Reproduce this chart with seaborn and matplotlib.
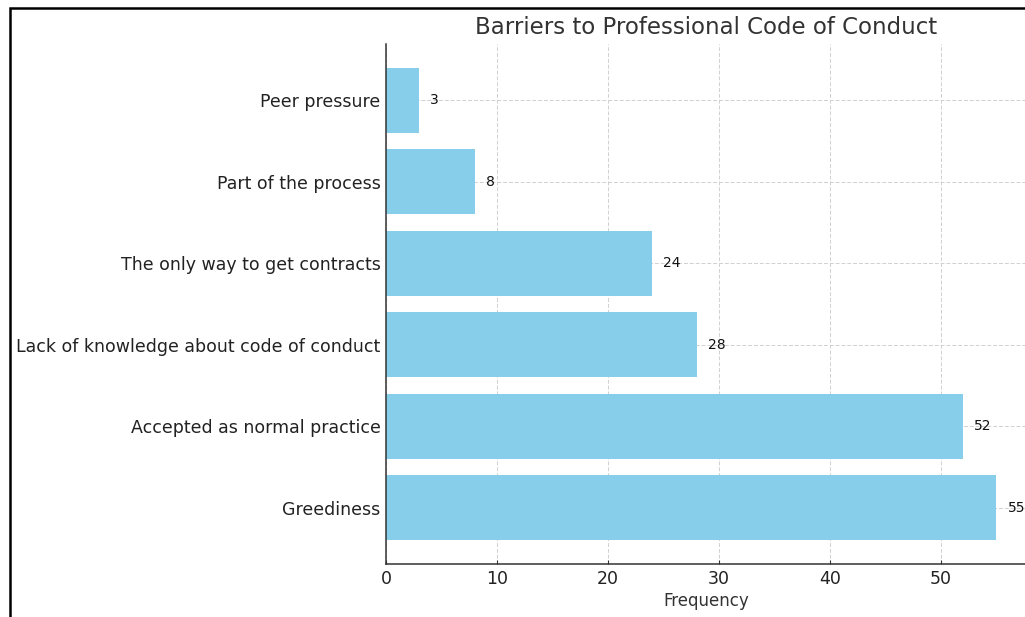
import matplotlib
matplotlib.use("Agg")
import matplotlib.pyplot as plt
from matplotlib.patches import Rectangle
import seaborn as sns
import pandas as pd

categories = [
    "Peer pressure",
    "Part of the process",
    "The only way to get contracts",
    "Lack of knowledge about code of conduct",
    "Accepted as normal practice",
    "Greediness",
]
frequency = [3, 8, 24, 28, 52, 55]

df = pd.DataFrame({"Barrier": categories, "Frequency": frequency})

sns.set_style("white")
plt.rcParams["font.family"] = ["DejaVu Sans"]

W, H = 1025, 617
fig = plt.figure(figsize=(W / 100, H / 100), dpi=100)
ax = fig.add_axes([386 / W, 1 - 564 / H, 641 / W, (564 - 44) / H])

sns.barplot(data=df, x="Frequency", y="Barrier", order=categories,
            color="#87CEEB", saturation=1, width=0.8, linewidth=0,
            ax=ax, zorder=2)

ax.set_xlim(0, 57.75)
ax.set_ylim(5.69, -0.69)
ax.set_xticks([0, 10, 20, 30, 40, 50])

ax.grid(True, linestyle=(0, (4, 2)), color="#d0d0d0", linewidth=0.7,
        zorder=0)
ax.set_axisbelow(True)

for s in ["top", "right"]:
    ax.spines[s].set_visible(False)
for s in ["left", "bottom"]:
    ax.spines[s].set_color("#333333")
    ax.spines[s].set_linewidth(1.1)

ax.tick_params(axis="both", which="both", length=3, width=0.8,
               colors="#333333", labelcolor="#222222", labelsize=12.5,
               direction="in", pad=4, left=True, bottom=True)
ax.set_ylabel("")
ax.set_xlabel("Frequency", fontsize=12, color="#333333", labelpad=3)
ax.set_title("Barriers to Professional Code of Conduct", fontsize=16.5,
             color="#333333", pad=7)

for i, v in enumerate(frequency):
    ax.text(v + 1, i, str(v), va="center", ha="left", fontsize=10,
            color="#111111")

# outer frame around the figure
fig.patches.append(Rectangle((9.5 / W, -0.05), 1.2, 1 - 7.5 / H + 0.05,
                             transform=fig.transFigure, fill=False,
                             edgecolor="black", linewidth=1.8,
                             clip_on=False))

fig.savefig("out.png", dpi=100)
